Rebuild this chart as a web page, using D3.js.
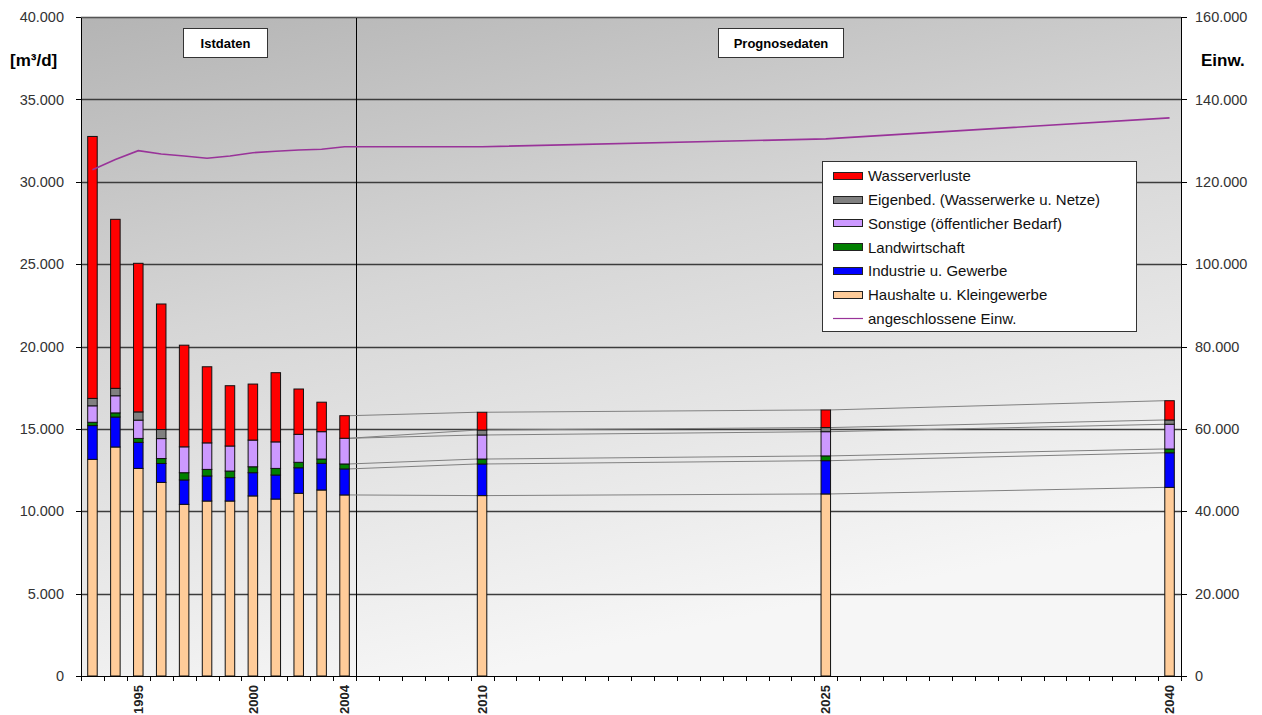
<!DOCTYPE html>
<html>
<head>
<meta charset="utf-8">
<script src="https://cdn.jsdelivr.net/npm/d3@7"></script>
<style>
  body { margin: 0; background: #fff; }
  svg { display: block; font-family: Arial, "Liberation Sans", sans-serif; }
</style>
</head>
<body>
<div id="chart"></div>
<script>
// ---- Daten ----
const barYears = ["1993","1994","1995","1996","1997","1998","1999","2000","2001","2002","2003","2004","2010","2025","2040"];
const haushalte   = [13150,13900,12600,11750,10420,10620,10620,10930,10740,11090,11290,10990,10950,11050,11450];
const industrie   = [ 2050, 1820, 1580, 1150, 1480, 1520, 1420, 1410, 1460, 1550, 1620, 1580, 1920, 2020, 2100];
const landwirt    = [  200,  250,  240,  300,  440,  400,  400,  360,  400,  330,  260,  300,  300,  290,  230];
const sonstige    = [ 1000, 1040, 1110, 1210, 1570, 1610, 1520, 1620, 1610, 1700, 1660, 1560, 1460, 1470, 1500];
const eigenbed    = [  450,  450,  500,  550,    0,    0,    0,    0,    0,    0,    0,    0,  300,  250,  260];
const verluste    = [15900,10260, 9020, 7620, 6170, 4620, 3660, 3400, 4200, 2750, 1790, 1370, 1080, 1070, 1170];

const popYears  = ["1993","1994","1995","1996","1997","1998","1999","2000","2001","2002","2003","2004","2010","2025","2040"];
const popValues = [122900,125400,127550,126750,126250,125700,126250,127050,127400,127700,127880,128500,128500,130400,135500];

const keys   = ["haushalte","industrie","landwirt","sonstige","eigenbed","verluste"];
const labels = ["Haushalte u. Kleingewerbe","Industrie u. Gewerbe","Landwirtschaft","Sonstige (öffentlicher Bedarf)","Eigenbed. (Wasserwerke u. Netze)","Wasserverluste"];
const colors = ["#ffcc99","#0000ff","#008000","#cc99ff","#808080","#ff0000"];

const leftTicks  = [0,5000,10000,15000,20000,25000,30000,35000,40000];
const rightTicks = [0,20000,40000,60000,80000,100000,120000,140000,160000];
const labelYears = ["1995","2000","2004","2010","2025","2040"];

const allYears = d3.range(1993, 2041).map(String);
const seriesLineYears = ["2004","2010","2025","2040"];

// ---- Aufbau ----
const W = 1262, H = 715;
const L = 81, R = 1181, T = 17, B = 676;
const deNum = v => d3.format(",")(v).replace(/,/g, ".");

const svg = d3.select("#chart").append("svg")
  .attr("width", W).attr("height", H);

const defs = svg.append("defs");
const grad = defs.append("linearGradient").attr("id", "bg")
  .attr("x1", 0).attr("y1", 0).attr("x2", 0.35).attr("y2", 1);
grad.append("stop").attr("offset", "0%").attr("stop-color", "#b4b4b4");
grad.append("stop").attr("offset", "45%").attr("stop-color", "#d6d6d6");
grad.append("stop").attr("offset", "100%").attr("stop-color", "#f6f6f6");

const x = d3.scaleBand().domain(allYears).range([L, R])
  .paddingInner(0.585).paddingOuter(0.2925);
const y = d3.scaleLinear().domain([0, 40000]).range([B, T]);
const y2 = d3.scaleLinear().domain([0, 160000]).range([B, T]);

// Hintergrund
svg.append("rect").attr("x", L).attr("y", T).attr("width", R - L).attr("height", B - T)
  .attr("fill", "url(#bg)");

// Gitternetz
svg.append("g").selectAll("line").data(leftTicks.slice(1)).join("line")
  .attr("x1", L).attr("x2", R)
  .attr("y1", d => Math.round(y(d)) + 0.5).attr("y2", d => Math.round(y(d)) + 0.5)
  .attr("stroke", "#3c3c3c").attr("stroke-width", 1.3);

// Trennlinie Ist / Prognose
const divX = Math.round(x("2005") - x.step() * x.paddingInner() / 2) + 0.5;
svg.append("line").attr("x1", divX).attr("x2", divX).attr("y1", T).attr("y2", B)
  .attr("stroke", "#000").attr("stroke-width", 1);

// Daten-Tabelle
const table = barYears.map((yr, i) => ({
  year: yr,
  haushalte: haushalte[i], industrie: industrie[i], landwirt: landwirt[i],
  sonstige: sonstige[i], eigenbed: eigenbed[i], verluste: verluste[i]
}));
const stacked = d3.stack().keys(keys)(table);

// Reihenverbindungslinien (Prognose)
const lineG = svg.append("g");
stacked.forEach(s => {
  for (let i = 0; i < seriesLineYears.length - 1; i++) {
    const a = s.find(d => d.data.year === seriesLineYears[i]);
    const b = s.find(d => d.data.year === seriesLineYears[i + 1]);
    lineG.append("line")
      .attr("x1", x(a.data.year) + x.bandwidth()).attr("y1", y(a[1]))
      .attr("x2", x(b.data.year)).attr("y2", y(b[1]))
      .attr("stroke", "#808080").attr("stroke-width", 1);
  }
});

// Balken
svg.append("g").selectAll("g").data(stacked).join("g")
  .attr("fill", (d, i) => colors[i])
  .selectAll("rect").data(d => d.filter(p => p[1] - p[0] > 0)).join("rect")
  .attr("x", d => x(d.data.year))
  .attr("width", x.bandwidth())
  .attr("y", d => y(d[1]))
  .attr("height", d => y(d[0]) - y(d[1]))
  .attr("stroke", "#111").attr("stroke-width", 1);

// Einwohnerlinie
const popData = popYears.map((yr, i) => ({ year: yr, v: popValues[i] }));
svg.append("path").datum(popData)
  .attr("fill", "none").attr("stroke", "#993399").attr("stroke-width", 1.6)
  .attr("d", d3.line().x(d => x(d.year) + x.bandwidth() / 2).y(d => y2(d.v)));

// Achsen
const axisG = svg.append("g");
axisG.append("line").attr("x1", L + 0.5).attr("x2", L + 0.5).attr("y1", T).attr("y2", B).attr("stroke", "#000");
axisG.append("line").attr("x1", R + 0.5).attr("x2", R + 0.5).attr("y1", T).attr("y2", B).attr("stroke", "#000");
axisG.append("line").attr("x1", L).attr("x2", R + 6).attr("y1", B + 0.5).attr("y2", B + 0.5).attr("stroke", "#000");
axisG.append("line").attr("x1", L).attr("x2", R).attr("y1", T + 0.5).attr("y2", T + 0.5).attr("stroke", "#555");

// linke Achse
const yl = svg.append("g");
yl.selectAll("line").data(leftTicks).join("line")
  .attr("x1", L - 5).attr("x2", L)
  .attr("y1", d => Math.round(y(d)) + 0.5).attr("y2", d => Math.round(y(d)) + 0.5)
  .attr("stroke", "#000");
yl.selectAll("text").data(leftTicks).join("text")
  .attr("x", 64).attr("y", d => y(d)).attr("dy", "0.36em")
  .attr("text-anchor", "end").attr("font-size", 14.5).attr("fill", "#333")
  .text(d => deNum(d));

// rechte Achse
const yr2 = svg.append("g");
yr2.selectAll("line").data(rightTicks).join("line")
  .attr("x1", R).attr("x2", R + 6)
  .attr("y1", d => Math.round(y2(d)) + 0.5).attr("y2", d => Math.round(y2(d)) + 0.5)
  .attr("stroke", "#000");
yr2.selectAll("text").data(rightTicks).join("text")
  .attr("x", 1195).attr("y", d => y2(d)).attr("dy", "0.36em")
  .attr("text-anchor", "start").attr("font-size", 14.5).attr("fill", "#333")
  .text(d => deNum(d));

// x-Achse: Teilstriche an Kategoriegrenzen
const xb = svg.append("g");
xb.selectAll("line").data(d3.range(allYears.length + 1)).join("line")
  .attr("x1", i => Math.round(L + i * x.step()) + 0.5)
  .attr("x2", i => Math.round(L + i * x.step()) + 0.5)
  .attr("y1", B).attr("y2", B + 5)
  .attr("stroke", "#000");
xb.selectAll("text").data(labelYears).join("text")
  .attr("transform", d => `translate(${x(d) + x.bandwidth() / 2},685) rotate(-90)`)
  .attr("dy", "0.36em").attr("text-anchor", "end")
  .attr("font-size", 13).attr("font-weight", "bold").attr("fill", "#222")
  .text(d => d);

// Achsentitel
svg.append("text").attr("x", 10).attr("y", 66).attr("font-size", 17).attr("font-weight", "bold")
  .text("[m³/d]");
svg.append("text").attr("x", 1201).attr("y", 66).attr("font-size", 17).attr("font-weight", "bold")
  .text("Einw.");

// Beschriftungsboxen
const boxes = [
  { text: "Istdaten", x: 183, w: 84 },
  { text: "Prognosedaten", x: 718, w: 125 }
];
boxes.forEach(b => {
  svg.append("rect").attr("x", b.x + 0.5).attr("y", 28.5).attr("width", b.w).attr("height", 29)
    .attr("fill", "#fff").attr("stroke", "#333");
  svg.append("text").attr("x", b.x + b.w / 2 + 0.5).attr("y", 43).attr("dy", "0.36em")
    .attr("text-anchor", "middle").attr("font-size", 13).attr("font-weight", "bold")
    .text(b.text);
});

// Legende
const lg = svg.append("g");
lg.append("rect").attr("x", 822.5).attr("y", 161.5).attr("width", 314).attr("height", 170)
  .attr("fill", "#fff").attr("stroke", "#333");
const legendItems = keys.map((k, i) => ({ label: labels[i], color: colors[i], type: "bar" })).reverse();
legendItems.push({ label: "angeschlossene Einw.", color: "#993399", type: "line" });
legendItems.forEach((it, i) => {
  const cy = 176 + i * 23.7;
  if (it.type === "bar") {
    lg.append("rect").attr("x", 833.5).attr("y", Math.round(cy - 4) + 0.5).attr("width", 29).attr("height", 7)
      .attr("fill", it.color).attr("stroke", "#222");
  } else {
    lg.append("line").attr("x1", 833).attr("x2", 863).attr("y1", Math.round(cy) + 0.5).attr("y2", Math.round(cy) + 0.5)
      .attr("stroke", it.color).attr("stroke-width", 1.2);
  }
  lg.append("text").attr("x", 868).attr("y", cy).attr("dy", "0.36em")
    .attr("font-size", 15).attr("fill", "#111").text(it.label);
});
</script>
</body>
</html>
